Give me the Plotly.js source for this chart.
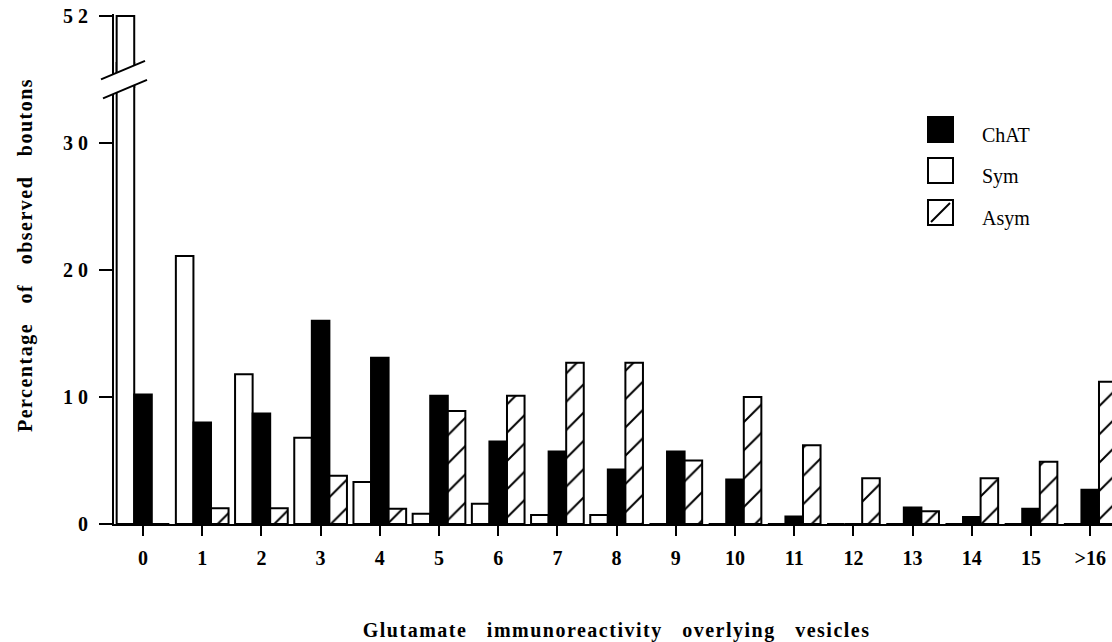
<!DOCTYPE html>
<html>
<head>
<meta charset="utf-8">
<script src="https://cdn.plot.ly/plotly-3.0.1.min.js"></script>
<style>
html,body{margin:0;padding:0;background:#fff;}
#chart{width:1112px;height:642px;}
.annotation[data-index="3"] .annotation-text,
.annotation[data-index="4"] .annotation-text{letter-spacing:1.5px;}
</style>
</head>
<body>
<div id="chart"></div>
<script>
// ---- data ----
const categories = ['0','1','2','3','4','5','6','7','8','9','10','11','12','13','14','15','>16'];
const chat = [10.2, 8.0, 8.7, 16.0, 13.1, 10.1, 6.5, 5.7, 4.3, 5.7, 3.5, 0.6, 0, 1.3, 0.55, 1.2, 2.7];
const sym  = [52, 21.1, 11.8, 6.8, 3.3, 0.8, 1.6, 0.7, 0.7, 0, 0, 0, 0, 0, 0, 0, 0];
const asym = [0, 1.25, 1.25, 3.8, 1.2, 8.9, 10.1, 12.7, 12.7, 5.0, 10.0, 6.2, 3.6, 1.0, 3.6, 4.9, 11.2];
const seriesNames = ['Sym', 'ChAT', 'Asym'];
const lowerTicks = [0, 10, 20, 30];
const lowerTickText = ['0', '1 0', '2 0', '3 0'];
const upperTicks = [52];
const upperTickText = ['5 2'];

// ---- geometry ----
const FIG_W = 1112, FIG_H = 642;
const L = 114, R = 0, T = 14, B = 118;
const PW = FIG_W - L - R, PH = FIG_H - T - B;
const BASE = FIG_H - B;           // pixel row of y = 0
const PXU = 12.7;                 // pixels per percent
const px = x => (x - L) / PW;
const py = y => (BASE - y) / PH;

const lowerTopPx = 62, upperBotPx = 88;
const lowerRangeTop = (BASE - lowerTopPx) / PXU;
const upperR1 = 52 + (16 - T) / PXU;
const upperR0 = upperR1 - (upperBotPx - T) / PXU;

const serif = 'Liberation Serif, Times New Roman, serif';
const lineStyle = {color: '#000', width: 2};

function makeTraces(yax) {
  return [
    {type: 'bar', name: seriesNames[0], x: categories, y: sym, yaxis: yax, xaxis: 'x',
     marker: {color: '#fff', line: lineStyle}, showlegend: false, hoverinfo: 'x+y+name'},
    {type: 'bar', name: seriesNames[1], x: categories, y: chat, yaxis: yax, xaxis: 'x',
     marker: {color: '#000', line: lineStyle}, showlegend: false, hoverinfo: 'x+y+name'},
    {type: 'bar', name: seriesNames[2], x: categories, y: asym, yaxis: yax, xaxis: 'x',
     marker: {color: '#fff', line: lineStyle,
              pattern: {shape: '/', size: 20, solidity: 0.1, fgcolor: '#000', bgcolor: '#fff'}},
     showlegend: false, hoverinfo: 'x+y+name'}
  ];
}
const data = makeTraces('y').concat(makeTraces('y2'));

// break marks (pixel geometry converted to paper)
const slope = 0.42;
const upY = x => 79 - slope * (x - 102);
const loY = x => 98 - slope * (x - 104);
const pathFrom = pts => 'M ' + pts.map(p => px(p[0]) + ',' + py(p[1])).join(' L ') + ' Z';

const shapes = [
  {type: 'path', xref: 'paper', yref: 'paper', layer: 'above',
   path: pathFrom([[103, upY(103)], [146, upY(146)], [146, loY(146)], [103, loY(103)]]),
   fillcolor: '#fff', line: {width: 0}},
  {type: 'line', xref: 'paper', yref: 'paper', layer: 'above',
   x0: px(101), y0: py(upY(101)), x1: px(145), y1: py(upY(145)), line: lineStyle},
  {type: 'line', xref: 'paper', yref: 'paper', layer: 'above',
   x0: px(103), y0: py(loY(103)), x1: px(147), y1: py(loY(147)), line: lineStyle},
  // legend keys
  {type: 'rect', xref: 'paper', yref: 'paper', x0: px(928), x1: px(953), y0: py(142), y1: py(117),
   fillcolor: '#000', line: lineStyle},
  {type: 'rect', xref: 'paper', yref: 'paper', x0: px(928), x1: px(953), y0: py(183), y1: py(158),
   fillcolor: '#fff', line: lineStyle},
  {type: 'rect', xref: 'paper', yref: 'paper', x0: px(928), x1: px(953), y0: py(225), y1: py(200),
   fillcolor: '#fff', line: lineStyle},
  {type: 'line', xref: 'paper', yref: 'paper', x0: px(931), y0: py(222), x1: px(950), y1: py(203),
   line: lineStyle}
];

const nb = n => '\u00A0'.repeat(n);
const annotations = [
  {xref: 'paper', yref: 'paper', x: px(980), y: py(135), xanchor: 'left', yanchor: 'middle',
   text: 'ChAT', showarrow: false, font: {family: serif, size: 20, color: '#000'}},
  {xref: 'paper', yref: 'paper', x: px(980), y: py(176), xanchor: 'left', yanchor: 'middle',
   text: 'Sym', showarrow: false, font: {family: serif, size: 20, color: '#000'}},
  {xref: 'paper', yref: 'paper', x: px(980), y: py(218), xanchor: 'left', yanchor: 'middle',
   text: 'Asym', showarrow: false, font: {family: serif, size: 20, color: '#000'}},
  {xref: 'paper', yref: 'paper', x: px(616), y: py(630), xanchor: 'center', yanchor: 'middle',
   text: 'Glutamate' + nb(3) + 'immunoreactivity' + nb(3) + 'overlying' + nb(3) + 'vesicles',
   showarrow: false, font: {family: serif, size: 20, color: '#000', weight: 'bold'}},
  {xref: 'paper', yref: 'paper', x: px(25), y: py(255), xanchor: 'center', yanchor: 'middle',
   textangle: -90,
   text: 'Percentage' + nb(3) + 'of' + nb(3) + 'observed' + nb(3) + 'boutons',
   showarrow: false, font: {family: serif, size: 20, color: '#000', weight: 'bold'}}
];

const tickFont = {family: serif, size: 20, color: '#000', weight: 'bold'};

const layout = {
  width: FIG_W, height: FIG_H,
  margin: {l: L, r: R, t: T, b: B, pad: 0},
  paper_bgcolor: '#fff', plot_bgcolor: 'rgba(0,0,0,0)',
  barmode: 'group', bargap: 0.11, bargroupgap: 0,
  showlegend: false,
  xaxis: {
    type: 'category', range: [-0.49, -0.49 + PW / 59.2], anchor: 'y',
    showline: true, linecolor: '#000', linewidth: 2, showgrid: false, zeroline: false,
    ticks: 'outside', ticklen: 10, tickwidth: 2, tickcolor: '#000',
    tickfont: tickFont, ticklabelstandoff: 5, fixedrange: true
  },
  yaxis: {
    domain: [0, py(lowerTopPx)], range: [0, lowerRangeTop], anchor: 'x',
    showline: true, linecolor: '#000', linewidth: 2, showgrid: false, zeroline: false,
    tickvals: lowerTicks, ticktext: lowerTickText,
    ticks: 'outside', ticklen: 13, tickwidth: 2, tickcolor: '#000',
    tickfont: tickFont, ticklabelstandoff: 7, fixedrange: true
  },
  yaxis2: {
    domain: [py(upperBotPx), 1], range: [upperR0, upperR1], anchor: 'x',
    showline: true, linecolor: '#000', linewidth: 2, showgrid: false, zeroline: false,
    tickvals: upperTicks, ticktext: upperTickText,
    ticks: 'outside', ticklen: 13, tickwidth: 2, tickcolor: '#000',
    tickfont: tickFont, ticklabelstandoff: 7, fixedrange: true
  },
  shapes: shapes,
  annotations: annotations
};

Plotly.newPlot('chart', data, layout, {displayModeBar: false, staticPlot: true});
</script>
</body>
</html>
